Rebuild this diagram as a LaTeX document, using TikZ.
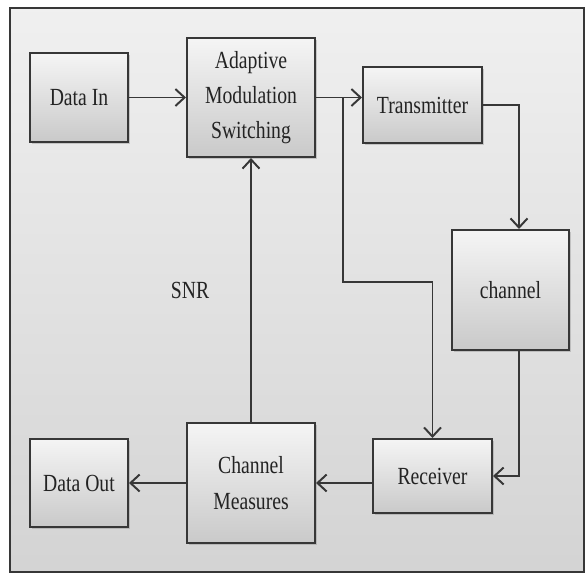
\documentclass[tikz,border=0pt]{standalone}
\usepackage{fontspec}
\setmainfont{Liberation Serif}[FakeStretch=0.8]
\usepackage{tikz}
\usetikzlibrary{positioning, arrows.meta, shadows, calc}
\definecolor{FrameGray}{RGB}{55,55,55}
\definecolor{TextGray}{RGB}{35,35,35}

\begin{document}
\begin{tikzpicture}[x=0.025cm, y=-0.025cm,
  block/.style={rectangle, draw=FrameGray, line width=1.4pt, top color=gray!8, bottom color=gray!42,
    drop shadow={opacity=0.35, shadow xshift=1.2pt, shadow yshift=-1.5pt},
    inner sep=0pt, align=center, text=TextGray, font=\fontsize{17.5}{25}\selectfont},
  arrow/.style={-{Straight Barb[length=6.5pt, width=12pt]}, line width=1.4pt, FrameGray},
  line/.style={line width=1.4pt, FrameGray}
]
\useasboundingbox (0,0) rectangle (586,574);
% outer frame
\draw[FrameGray, line width=1.4pt, top color=gray!12, bottom color=gray!34] (10,8) rectangle (584,572);

% transmit side
\node[block, minimum width=2.45cm, minimum height=2.225cm] (datain) at (79,97.5) {Data In};
\node[block, minimum width=3.2cm, minimum height=2.975cm] (adapt) at (251,97.5) {Adaptive\\Modulation\\Switching};
\node[block, minimum width=2.975cm, minimum height=1.9cm] (tx) at (422.5,105) {Transmitter};
\node[block, minimum width=2.925cm, minimum height=3cm] (chan) at (510.5,290) {channel};

% receive side
\node[block, minimum width=2.975cm, minimum height=1.85cm] (rx) at (432.5,476) {Receiver};
\node[block, minimum width=3.2cm, minimum height=3cm] (meas) at (251,483) {Channel\\Measures};
\node[block, minimum width=2.45cm, minimum height=2.2cm] (dataout) at (79,483) {Data Out};

\node[text=TextGray, font=\fontsize{17.5}{25}\selectfont] (snr) at (190,290) {SNR};

\coordinate (split) at (343,97.5);
\coordinate (cx) at (519,0);
\coordinate (bend) at (343,282);

\draw[arrow] (datain) -- (adapt);
\draw[arrow] (adapt.east) -- (adapt.east -| tx.west);
\draw[arrow] (split) -- (bend) -| (rx.north);
\draw[arrow] (tx.east) -| (cx |- chan.north);
\draw[arrow] (cx |- chan.south) |- (rx.east);
\draw[arrow] (meas.east -| rx.west) -- (meas.east);
\draw[arrow] (meas) -- (dataout);
\draw[arrow] (meas) -- (adapt);
\end{tikzpicture}
\end{document}
